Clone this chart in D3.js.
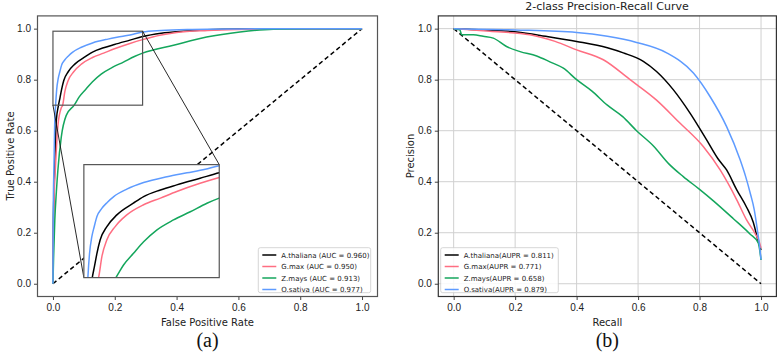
<!DOCTYPE html>
<html>
<head>
<meta charset="utf-8">
<script src="https://cdn.jsdelivr.net/npm/d3@7"></script>
<style>
	body { margin: 0; background: #fff; }
	svg { display: block; font-family: "DejaVu Sans", sans-serif; }
	.tick text { font-size: 10px; fill: #222; }
	.tick line { stroke: #444; }
	.axis-label { font-size: 10px; fill: #222; }
	.legend-text { font-size: 7px; fill: #222; }
	.caption { font-family: "Liberation Serif", "DejaVu Serif", serif; font-size: 20px; fill: #111; }
</style>
</head>
<body>
<div id="chart"></div>
<script>
// ---- data ----
var seriesNames = ["A.thaliana", "G.max", "Z.mays", "O.sativa"];
var seriesColors = ["#000000", "#ff6e82", "#14a65c", "#5e9bff"];
var aucValues = ["0.960", "0.950", "0.913", "0.977"];
var auprValues = ["0.811", "0.771", "0.658", "0.879"];
var tickValues = [0, 0.2, 0.4, 0.6, 0.8, 1.0];

// ROC curves (false positive rate, true positive rate)
var rocFprThaliana = [0, 0.001, 0.003, 0.0055, 0.011, 0.018, 0.0229, 0.028, 0.035, 0.0493, 0.0707, 0.106, 0.128, 0.164, 0.199, 0.249, 0.29, 0.35, 0.42, 0.5, 0.6, 0.8, 1.0];
var rocTprThaliana = [0, 0.2, 0.35, 0.446, 0.642, 0.70, 0.73, 0.762, 0.797, 0.831, 0.861, 0.891, 0.908, 0.925, 0.938, 0.955, 0.969, 0.982, 0.99, 0.996, 0.999, 1.0, 1.0];
var rocFprMax = [0, 0.001, 0.004, 0.0076, 0.016, 0.027, 0.0314, 0.0386, 0.0493, 0.0671, 0.092, 0.128, 0.164, 0.199, 0.249, 0.29, 0.35, 0.4, 0.5, 0.6, 0.7, 0.85, 1.0];
var rocTprMax = [0, 0.15, 0.35, 0.446, 0.62, 0.69, 0.70, 0.754, 0.797, 0.831, 0.861, 0.887, 0.904, 0.921, 0.942, 0.957, 0.975, 0.985, 0.993, 0.997, 0.999, 1.0, 1.0];
var rocFprMays = [0, 0.002, 0.006, 0.011, 0.016, 0.027, 0.043, 0.0686, 0.085, 0.1064, 0.128, 0.156, 0.192, 0.228, 0.2636, 0.29, 0.39, 0.497, 0.605, 0.713, 0.85, 1.0];
var rocTprMays = [0, 0.1, 0.25, 0.36, 0.446, 0.576, 0.66, 0.70, 0.7325, 0.7625, 0.792, 0.822, 0.848, 0.869, 0.891, 0.904, 0.935, 0.967, 0.987, 0.998, 1.0, 1.0];
var rocFprSativa = [0, 0.0005, 0.0015, 0.003, 0.0055, 0.0086, 0.012, 0.0171, 0.022, 0.028, 0.038, 0.05, 0.064, 0.092, 0.128, 0.178, 0.221, 0.26, 0.29, 0.35, 0.45, 0.6, 0.8, 1.0];
var rocTprSativa = [0, 0.2, 0.35, 0.446, 0.62, 0.70, 0.76, 0.805, 0.83, 0.857, 0.877, 0.893, 0.908, 0.927, 0.944, 0.959, 0.969, 0.978, 0.987, 0.993, 0.997, 0.999, 1.0, 1.0];

// PR curves (recall, precision)
var prRecThaliana = [0, 0.1, 0.205, 0.3, 0.4, 0.5, 0.552, 0.617, 0.66, 0.715, 0.769, 0.823, 0.86, 0.888, 0.921, 0.953, 0.975, 0.991, 1.0];
var prPreThaliana = [1.0, 0.995, 0.987, 0.97, 0.95, 0.925, 0.905, 0.872, 0.832, 0.76, 0.669, 0.564, 0.49, 0.446, 0.368, 0.3, 0.24, 0.165, 0.132];
var prRecMax = [0, 0.118, 0.248, 0.33, 0.4, 0.487, 0.574, 0.66, 0.736, 0.812, 0.867, 0.921, 0.953, 0.98, 0.994, 1.0];
var prPreMax = [1.0, 0.99, 0.976, 0.95, 0.917, 0.878, 0.80, 0.72, 0.63, 0.538, 0.446, 0.329, 0.25, 0.198, 0.165, 0.14];
var prRecMays = [0, 0.02, 0.026, 0.064, 0.096, 0.129, 0.172, 0.216, 0.27, 0.313, 0.357, 0.40, 0.45, 0.50, 0.55, 0.595, 0.65, 0.70, 0.747, 0.80, 0.845, 0.91, 0.964, 0.991, 1.0];
var prPreMays = [1.0, 0.996, 0.976, 0.976, 0.97, 0.963, 0.93, 0.91, 0.893, 0.87, 0.845, 0.80, 0.755, 0.70, 0.655, 0.60, 0.54, 0.47, 0.42, 0.37, 0.325, 0.255, 0.195, 0.16, 0.093];
var prRecSativa = [0, 0.2, 0.4, 0.5, 0.595, 0.693, 0.78, 0.834, 0.888, 0.932, 0.95, 0.966, 0.978, 0.987, 0.994, 1.0];
var prPreSativa = [1.0, 0.995, 0.985, 0.97, 0.946, 0.905, 0.826, 0.734, 0.616, 0.486, 0.42, 0.35, 0.29, 0.22, 0.16, 0.095];

function zipXY(xs, ys) {
	return xs.map((x, i) => [x, ys[i]]);
}

var rocSeries = [
	zipXY(rocFprThaliana, rocTprThaliana),
	zipXY(rocFprMax, rocTprMax),
	zipXY(rocFprMays, rocTprMays),
	zipXY(rocFprSativa, rocTprSativa)
];
var prSeries = [
	zipXY(prRecThaliana, prPreThaliana),
	zipXY(prRecMax, prPreMax),
	zipXY(prRecMays, prPreMays),
	zipXY(prRecSativa, prPreSativa)
];

// zoomed region of the ROC plot, and where the inset sits (in axes units)
var zoomBox = {x0: 0, x1: 0.29, y0: 0.7, y1: 0.99};
var insetBox = {x0: 0.1, x1: 0.538, y0: 0.024, y1: 0.467};

var W = 778, H = 355;
var svg = d3.select("#chart").append("svg")
	.attr("width", W)
	.attr("height", H);

function buildPanel(opts) {
	var x = d3.scaleLinear().domain([-0.05, 1.05]).range([opts.left, opts.right]);
	var y = d3.scaleLinear().domain([-0.05, 1.05]).range([296.5, 15.9]);
	var g = svg.append("g");

	if (opts.grid) {
		g.append("g").selectAll("line").data(tickValues).join("line")
			.attr("x1", d => x(d)).attr("x2", d => x(d))
			.attr("y1", y.range()[0]).attr("y2", y.range()[1])
			.attr("stroke", "#d0d0d0").attr("stroke-width", 1);
		g.append("g").selectAll("line").data(tickValues).join("line")
			.attr("y1", d => y(d)).attr("y2", d => y(d))
			.attr("x1", opts.left).attr("x2", opts.right)
			.attr("stroke", "#d0d0d0").attr("stroke-width", 1);
	}

	var xAxis = d3.axisBottom(x).tickValues(tickValues).tickFormat(d3.format(".1f"))
		.tickSize(3.5).tickPadding(3.5).tickSizeOuter(0);
	var yAxis = d3.axisLeft(y).tickValues(tickValues).tickFormat(d3.format(".1f"))
		.tickSize(3.5).tickPadding(3).tickSizeOuter(0);

	g.append("g")
		.attr("transform", "translate(0," + y.range()[0] + ")")
		.call(xAxis)
		.call(a => a.select(".domain").remove());
	g.append("g")
		.attr("transform", "translate(" + opts.left + ",0)")
		.call(yAxis)
		.call(a => a.select(".domain").remove());

	var mid = (opts.left + opts.right) / 2;
	g.append("text").attr("class", "axis-label")
		.attr("text-anchor", "middle")
		.attr("x", mid).attr("y", 326)
		.text(opts.xlabel);
	g.append("text").attr("class", "axis-label")
		.attr("text-anchor", "middle")
		.attr("transform", "translate(" + (opts.left - 24) + ",156) rotate(-90)")
		.text(opts.ylabel);
	g.append("text").attr("class", "caption")
		.attr("text-anchor", "middle")
		.attr("x", mid).attr("y", 347)
		.text(opts.caption);

	return {g: g, x: x, y: y};
}

function drawLegend(g, left, top, width, labels) {
	var lg = g.append("g").attr("transform", "translate(" + left + "," + top + ")");
	lg.append("rect")
		.attr("width", width).attr("height", 45)
		.attr("rx", 2)
		.attr("fill", "#fff").attr("fill-opacity", 0.85)
		.attr("stroke", "#cccccc").attr("stroke-width", 0.8);
	var rows = lg.selectAll("g.row").data(labels).join("g")
		.attr("class", "row")
		.attr("transform", (d, i) => "translate(0," + (7.3 + i * 11.5) + ")");
	rows.append("line")
		.attr("x1", 4).attr("x2", 18)
		.attr("stroke", (d, i) => seriesColors[i])
		.attr("stroke-width", 1.5);
	rows.append("text").attr("class", "legend-text")
		.attr("x", 23).attr("y", 2.5)
		.text(d => d);
}

// ---------------- (a) ROC ----------------
var roc = buildPanel({left: 37.5, right: 377.5, xlabel: "False Positive Rate",
	ylabel: "True Positive Rate", caption: "(a)"});

var rocLine = d3.line().curve(d3.curveMonotoneX)
	.x(d => roc.x(d[0])).y(d => roc.y(d[1]));

roc.g.append("path")
	.attr("d", rocLine([[0, 0], [1, 1]]))
	.attr("fill", "none").attr("stroke", "#000")
	.attr("stroke-width", 1.5).attr("stroke-dasharray", "4.5,3");

roc.g.append("g").selectAll("path").data(rocSeries).join("path")
	.attr("d", rocLine)
	.attr("fill", "none")
	.attr("stroke", (d, i) => seriesColors[i])
	.attr("stroke-width", 1.5);

// zoomed rectangle
roc.g.append("rect")
	.attr("x", roc.x(zoomBox.x0)).attr("y", roc.y(zoomBox.y1))
	.attr("width", roc.x(zoomBox.x1) - roc.x(zoomBox.x0))
	.attr("height", roc.y(zoomBox.y0) - roc.y(zoomBox.y1))
	.attr("fill", "none").attr("stroke", "#555").attr("stroke-width", 1.2);

var ix0 = roc.x(insetBox.x0), ix1 = roc.x(insetBox.x1);
var iy0 = roc.y(insetBox.y0), iy1 = roc.y(insetBox.y1);

// connector lines
roc.g.append("line")
	.attr("x1", roc.x(zoomBox.x0)).attr("y1", roc.y(zoomBox.y0))
	.attr("x2", ix0).attr("y2", iy0)
	.attr("stroke", "#111").attr("stroke-width", 0.9);
roc.g.append("line")
	.attr("x1", roc.x(zoomBox.x1)).attr("y1", roc.y(zoomBox.y1))
	.attr("x2", ix1).attr("y2", iy1)
	.attr("stroke", "#111").attr("stroke-width", 0.9);

// inset axes
var ixScale = d3.scaleLinear().domain([zoomBox.x0, zoomBox.x1]).range([ix0, ix1]);
var iyScale = d3.scaleLinear().domain([zoomBox.y0, zoomBox.y1]).range([iy0, iy1]);
svg.append("defs").append("clipPath").attr("id", "inset-clip")
	.append("rect")
	.attr("x", ix0).attr("y", iy1)
	.attr("width", ix1 - ix0).attr("height", iy0 - iy1);

roc.g.append("rect")
	.attr("x", ix0).attr("y", iy1)
	.attr("width", ix1 - ix0).attr("height", iy0 - iy1)
	.attr("fill", "#fff");

var insetLine = d3.line().curve(d3.curveMonotoneX)
	.x(d => ixScale(d[0])).y(d => iyScale(d[1]));
roc.g.append("g").attr("clip-path", "url(#inset-clip)")
	.selectAll("path").data(rocSeries).join("path")
	.attr("d", insetLine)
	.attr("fill", "none")
	.attr("stroke", (d, i) => seriesColors[i])
	.attr("stroke-width", 1.5);

roc.g.append("rect")
	.attr("x", ix0).attr("y", iy1)
	.attr("width", ix1 - ix0).attr("height", iy0 - iy1)
	.attr("fill", "none").attr("stroke", "#555").attr("stroke-width", 1.2);

drawLegend(roc.g, 258.3, 247.7, 112.4,
	seriesNames.map((n, i) => n + " (AUC = " + aucValues[i] + ")"));

// outer frame
roc.g.append("rect")
	.attr("x", 37.5).attr("y", 15.9)
	.attr("width", 340).attr("height", 280.6)
	.attr("fill", "none").attr("stroke", "#555").attr("stroke-width", 1.2);

// ---------------- (b) PR ----------------
var pr = buildPanel({left: 438.3, right: 776.4, xlabel: "Recall",
	ylabel: "Precision", caption: "(b)", grid: true});

var prLine = d3.line().curve(d3.curveMonotoneX)
	.x(d => pr.x(d[0])).y(d => pr.y(d[1]));

pr.g.append("path")
	.attr("d", d3.line().x(d => pr.x(d[0])).y(d => pr.y(d[1]))([[0, 1], [1, 0]]))
	.attr("fill", "none").attr("stroke", "#000")
	.attr("stroke-width", 1.5).attr("stroke-dasharray", "4.5,3");

pr.g.append("g").selectAll("path").data(prSeries).join("path")
	.attr("d", prLine)
	.attr("fill", "none")
	.attr("stroke", (d, i) => seriesColors[i])
	.attr("stroke-width", 1.5);

drawLegend(pr.g, 440.7, 247.7, 117.6,
	seriesNames.map((n, i) => n + "(AUPR = " + auprValues[i] + ")"));

pr.g.append("rect")
	.attr("x", 438.3).attr("y", 15.9)
	.attr("width", 338.1).attr("height", 280.6)
	.attr("fill", "none").attr("stroke", "#333").attr("stroke-width", 1.2);

pr.g.append("text")
	.attr("text-anchor", "middle")
	.attr("x", 607).attr("y", 10)
	.style("font-size", "11px").attr("fill", "#222")
	.text("2-class Precision-Recall Curve");
</script>
</body>
</html>
